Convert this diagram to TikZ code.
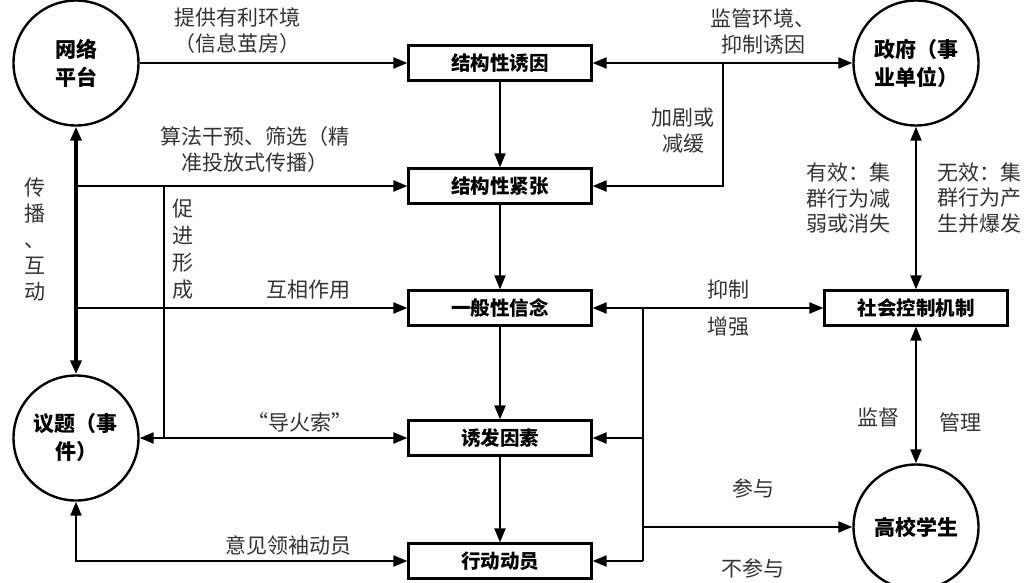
\documentclass[tikz,border=0pt]{standalone}
\usepackage{fontspec}
\setmainfont{Noto Sans CJK SC}
\usetikzlibrary{arrows.meta}
\tikzset{
  conn/.style={line width=2.2pt, draw=black},
  arr/.style={conn, -{Triangle[length=14pt,width=11pt]}},
  darr/.style={conn, {Triangle[length=14pt,width=11pt]}-{Triangle[length=14pt,width=11pt]}},
  stagebox/.style={draw, line width=2.2pt, minimum width=183pt, minimum height=35pt, inner sep=0pt, font=\fontsize{19.5}{22}\selectfont\bfseries},
  actor/.style={draw, circle, line width=2.4pt, minimum size=125pt, inner sep=0pt, align=center, font=\fontsize{21}{28}\selectfont\bfseries},
  lab/.style={text=black!80, font=\fontsize{21}{26}\selectfont, align=center, inner sep=0pt},
}
\begin{document}
\begin{tikzpicture}[x=1pt,y=-1pt]
\useasboundingbox (0,0) rectangle (1029,582);
% actors
\node[actor] (net) at (76,63) {网络\\平台};
\node[actor] (issue) at (76,438) {议题（事\\件）};
\node[actor] (gov) at (916,63) {政府（事\\业单位）};
\node[actor] (stu) at (916,527) {高校学生};
% stages
\node[stagebox] (b1) at (500,63) {结构性诱因};
\node[stagebox] (b2) at (500,186) {结构性紧张};
\node[stagebox] (b3) at (500,308) {一般性信念};
\node[stagebox] (b4) at (500,438) {诱发因素};
\node[stagebox] (b5) at (500,561) {行动动员};
\node[stagebox] (ctrl) at (916,308) {社会控制机制};
% junctions
\coordinate (l2) at (76,186);
\coordinate (l3) at (76,308);
\coordinate (p1) at (164,186);
\coordinate (p2) at (164,438);
\coordinate (j1) at (723,63);
\coordinate (r3) at (643,308);
\coordinate (r4) at (643,438);
\coordinate (r6) at (643,527);
\coordinate (r5) at (643,561);
% centre column
\draw[arr] (b1) -- (b2);
\draw[arr] (b2) -- (b3);
\draw[arr] (b3) -- (b4);
\draw[arr] (b4) -- (b5);
% left side
\draw[arr] (net) -- (b1);
\draw[darr, line width=3.5pt] (net) -- (issue);
\draw[arr] (l2) -- (b2.west);
\draw[arr] (l3) -- (b3.west);
\draw[conn] (p1) -- (p2);
\draw[darr] (issue) -- (b4);
\draw[darr] (issue.south) |- (b5.west);
% right side
\draw[arr] (j1) -- (b1.east);
\draw[arr] (j1) -- (gov);
\draw[arr] (j1) |- (b2.east);
\draw[conn] (r3) -- (r5);
\draw[arr] (r3) -- (b3.east);
\draw[arr] (r4) -- (b4.east);
\draw[arr] (r5) -- (b5.east);
\draw[arr] (r3) -- (ctrl);
\draw[arr] (r6) -- (stu);
\draw[darr] (gov) -- (ctrl);
\draw[darr] (ctrl) -- (stu);
% labels
\node[lab] (t1) at (237,31) {提供有利环境\\（信息茧房）};
\node[lab] (t2) at (255,150) {算法干预、筛选（精\\准投放式传播）};
\node[lab, font=\fontsize{21}{26}\selectfont] (t3) at (35,240) {传\\播\\、\\互\\动};
\node[lab, font=\fontsize{21}{27}\selectfont] (t4) at (183,249) {促\\进\\形\\成};
\node[lab] (t5) at (308,290) {互相作用};
\node[lab] (t6) at (300,422) {“导火索”};
\node[lab] (t7) at (288,545) {意见领袖动员};
\node[lab] (t8) at (763,31) {监管环境、\\抑制诱因};
\node[lab] (t9) at (683,131) {加剧或\\减缓};
\node[lab, font=\fontsize{21}{25.5}\selectfont] (t10) at (848,198) {有效：集\\群行为减\\弱或消失};
\node[lab, font=\fontsize{21}{25.5}\selectfont] (t11) at (979,198) {无效：集\\群行为产\\生并爆发};
\node[lab] (t12) at (728,290) {抑制};
\node[lab] (t13) at (728,327) {增强};
\node[lab] (t14) at (878,417) {监督};
\node[lab] (t15) at (960,422) {管理};
\node[lab] (t16) at (753,488) {参与};
\node[lab] (t17) at (753,568) {不参与};
\end{tikzpicture}
\end{document}
